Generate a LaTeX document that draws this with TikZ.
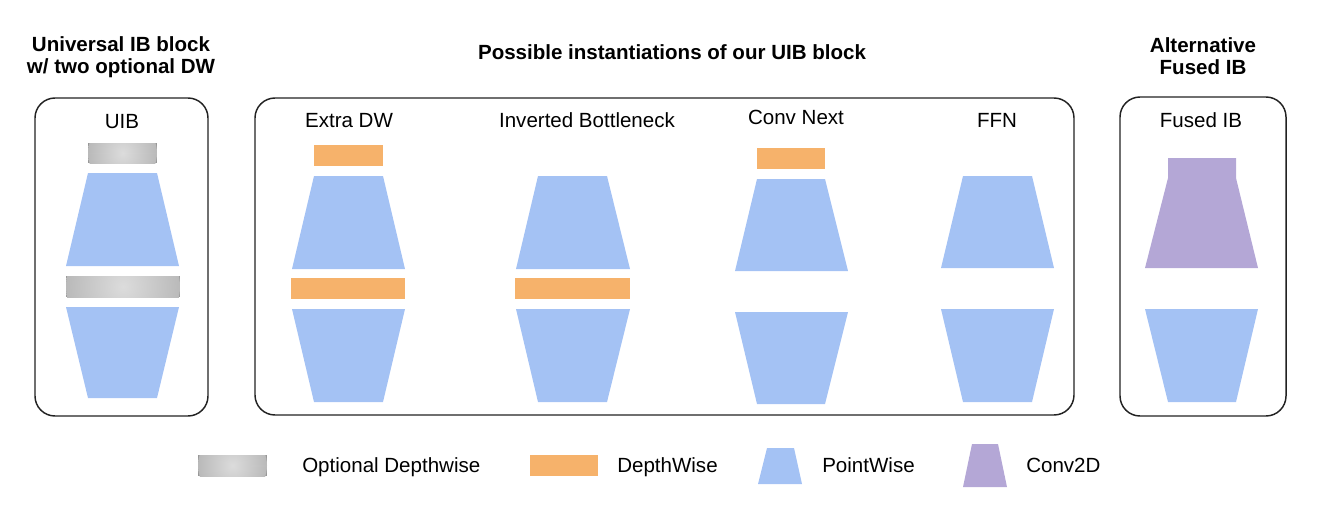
\documentclass[tikz,border=0pt]{standalone}
\usepackage{fontspec}
\setmainfont{Liberation Sans}
\definecolor{pwblue}{HTML}{A4C2F4}
\definecolor{dworange}{HTML}{F6B26B}
\definecolor{cvpurple}{HTML}{B4A7D6}
\definecolor{framecol}{HTML}{222222}
\definecolor{odwin}{HTML}{DCDCDC}
\definecolor{odwout}{HTML}{979797}
\pgfdeclareradialshading{odwshade}{\pgfpoint{0bp}{0bp}}{color(0bp)=(odwin); color(50bp)=(odwout)}
\newcommand{\odwbar}[4]{%
  \begin{scope}
    \clip (#1,#2) rectangle (#3,#4);
    \fill[odwout] (#1,#2) rectangle (#3,#4);
    \shade[shading=odwshade] ({(#1+#3)/2},{(#2+#4)/2}) circle ({(#3-#1)/2});
  \end{scope}}
\tikzset{
  pw/.style={fill=pwblue},
  dw/.style={fill=dworange},
  cv/.style={fill=cvpurple},
  frame/.style={draw=framecol, line width=1.1pt, rounded corners=15pt},
  lbl/.style={inner sep=0pt, anchor=base, font=\fontsize{15.4}{18.5}\selectfont},
  ttl/.style={inner sep=0pt, anchor=base, align=center, font=\fontsize{15.4}{16.5}\selectfont\bfseries},
  leg/.style={inner sep=0pt, anchor=base west, font=\fontsize{15.4}{18.5}\selectfont},
}
\begin{document}
\begin{tikzpicture}[x=0.75pt, y=-0.75pt]
\useasboundingbox (0,0) rectangle (1324,504);

% titles
\node[ttl] (t1) at (121,73) {Universal IB block\\w/ two optional DW};
\node[ttl] (t2) at (672,59) {Possible instantiations of our UIB block};
\node[ttl] (t3) at (1203,74) {Alternative\\Fused IB};

% frames
\draw[frame] (35,98) rectangle (208,416);
\draw[frame] (255,98) rectangle (1074,415);
\draw[frame] (1120,97) rectangle (1286,416);

% labels
\node[lbl] (luib) at (122,128) {UIB};
\node[lbl] (lextra) at (349,127) {Extra DW};
\node[lbl] (linv) at (587,127) {Inverted Bottleneck};
\node[lbl] (lcn) at (796,124) {Conv Next};
\node[lbl] (lffn) at (997,127) {FFN};
\node[lbl] (lfused) at (1201,127) {Fused IB};

% UIB
\odwbar{88}{143}{157}{163}
\fill[pw] (88,173) -- (157,173) -- (179,266) -- (66,266) -- cycle;
\odwbar{66}{276}{180}{297}
\fill[pw] (66,307) -- (179,307) -- (157,398) -- (88,398) -- cycle;

% Extra DW
\fill[dw] (314,145) rectangle (383,166);
\fill[pw] (314,176) -- (383,176) -- (405,269) -- (292,269) -- cycle;
\fill[dw] (291,278) rectangle (405,299);
\fill[pw] (292,309) -- (405,309) -- (383,402) -- (314,402) -- cycle;

% Inverted Bottleneck
\fill[pw] (538,176) -- (607,176) -- (630,269) -- (516,269) -- cycle;
\fill[dw] (515,278) rectangle (630,299);
\fill[pw] (516,309) -- (630,309) -- (607,402) -- (538,402) -- cycle;

% Conv Next
\fill[dw] (757,148) rectangle (825,169);
\fill[pw] (757,179) -- (825,179) -- (848,271) -- (735,271) -- cycle;
\fill[pw] (735,312) -- (848,312) -- (825,404) -- (757,404) -- cycle;

% FFN
\fill[pw] (963,176) -- (1032,176) -- (1054,268) -- (941,268) -- cycle;
\fill[pw] (941,309) -- (1054,309) -- (1032,402) -- (963,402) -- cycle;

% Fused IB
\fill[cv] (1168,158) -- (1236,158) -- (1236,178) -- (1258,268) -- (1145,268) -- (1168,178) -- cycle;
\fill[pw] (1145,309) -- (1258,309) -- (1236,402) -- (1168,402) -- cycle;

% legend
\odwbar{198}{455}{267}{476}
\node[leg] (lg1) at (302,472) {Optional Depthwise};
\fill[dw] (530,455) rectangle (598,476);
\node[leg] (lg2) at (617,472) {DepthWise};
\fill[pw] (767,448) -- (794,448) -- (802,484) -- (758,484) -- cycle;
\node[leg] (lg3) at (822,472) {PointWise};
\fill[cv] (972,444) -- (998,444) -- (1007,487) -- (963,487) -- cycle;
\node[leg] (lg4) at (1026,472) {Conv2D};
\end{tikzpicture}
\end{document}
